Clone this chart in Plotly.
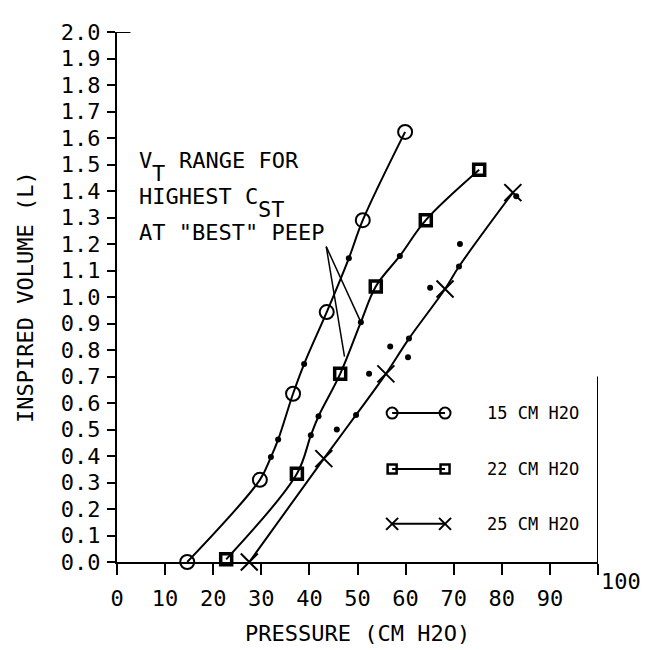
import plotly.graph_objects as go

# ---------------- data ----------------
# PEEP 15 cm H2O (circles)
c15_x = [14.6, 29.7, 36.6, 43.6, 51.1, 59.9]
c15_y = [0.0, 0.31, 0.635, 0.943, 1.29, 1.623]
c15_dot_x = [32.0, 33.5, 38.9, 48.2]
c15_dot_y = [0.396, 0.462, 0.747, 1.146]

# PEEP 22 cm H2O (squares)
c22_x = [22.7, 37.4, 46.4, 53.8, 64.2, 75.3]
c22_y = [0.01, 0.333, 0.71, 1.04, 1.29, 1.48]
c22_dot_x = [40.3, 41.9, 50.7, 58.8]
c22_dot_y = [0.478, 0.55, 0.905, 1.155]

# PEEP 25 cm H2O (crosses)
c25_x = [27.5, 43.0, 55.9, 68.2, 82.3]
c25_y = [0.0, 0.39, 0.71, 1.03, 1.394]
c25_dot_x = [49.7, 60.7, 71.1]
c25_dot_y = [0.555, 0.843, 1.115]

# loose dots not on a curve
stray_x = [45.7, 52.4, 56.8, 60.5, 65.1, 71.3, 83.0]
stray_y = [0.50, 0.71, 0.813, 0.773, 1.035, 1.20, 1.38]

x_ticks = [0, 10, 20, 30, 40, 50, 60, 70, 80, 90, 100]
x_tick_text = ["0", "10", "20", "30", "40", "50", "60", "70", "80", "90", ""]
y_ticks = [i / 10 for i in range(21)]

legend_labels = ["15 CM H2O", "22 CM H2O", "25 CM H2O"]

FONT = "DejaVu Sans Mono"
FS = 22
FS_LEG = 17
BLACK = "#000000"


def merged(xs, ys, dx, dy):
    pts = sorted(zip(list(xs) + list(dx), list(ys) + list(dy)))
    return [p[0] for p in pts], [p[1] for p in pts]


fig = go.Figure()

series = [
    (c15_x, c15_y, c15_dot_x, c15_dot_y, "circle-open", 14, 2),
    (c22_x, c22_y, c22_dot_x, c22_dot_y, "square-open", 11, 3.5),
    (c25_x, c25_y, c25_dot_x, c25_dot_y, "x-thin-open", 17, 2),
]
for xs, ys, dx, dy, sym, size, lw in series:
    lx, ly = merged(xs, ys, dx, dy)
    fig.add_trace(go.Scatter(x=lx, y=ly, mode="lines",
                             line=dict(color=BLACK, width=2, shape="spline", smoothing=1),
                             showlegend=False, hoverinfo="skip", cliponaxis=False))
    fig.add_trace(go.Scatter(x=xs, y=ys, mode="markers",
                             marker=dict(symbol=sym, size=size, color=BLACK,
                                         line=dict(color=BLACK, width=lw)),
                             showlegend=False, cliponaxis=False))
    fig.add_trace(go.Scatter(x=dx, y=dy, mode="markers",
                             marker=dict(symbol="circle", size=6, color=BLACK),
                             showlegend=False, cliponaxis=False))

fig.add_trace(go.Scatter(x=stray_x, y=stray_y, mode="markers",
                         marker=dict(symbol="circle", size=6, color=BLACK),
                         showlegend=False, cliponaxis=False))

# ---------------- hand-drawn style legend ----------------
leg_rows_y = [0.562, 0.351, 0.144]
leg_x0, leg_x1, leg_text_x = 57.2, 68.2, 76.5
leg_syms = [("circle-open", 11, 2), ("square-open", 9, 2.5), ("x-thin-open", 12, 2)]
for (sym, size, lw), yy, lab in zip(leg_syms, leg_rows_y, legend_labels):
    fig.add_trace(go.Scatter(x=[leg_x0, leg_x1], y=[yy, yy], mode="lines+markers",
                             line=dict(color=BLACK, width=2),
                             marker=dict(symbol=sym, size=size, color=BLACK,
                                         line=dict(color=BLACK, width=lw)),
                             showlegend=False, hoverinfo="skip", cliponaxis=False))
    fig.add_annotation(x=leg_text_x, y=yy, xref="x", yref="y", text=lab,
                       showarrow=False, xanchor="left", yanchor="middle",
                       font=dict(family=FONT, size=FS_LEG, color=BLACK))

# ---------------- annotation text ----------------
PITCH = 0.602 * FS
ann_x = 4.16
ann_lines = [
    (1.517, [(0, "V", 0), (1, "T", -13), (3, "RANGE FOR", 0)]),
    (1.380, [(0, "HIGHEST C", 0), (9, "ST", -13)]),
    (1.243, [(0, 'AT "BEST" PEEP', 0)]),
]
for yy, parts in ann_lines:
    for col, txt, dy in parts:
        fig.add_annotation(x=ann_x, y=yy, xref="x", yref="y", text=txt,
                           showarrow=False, xanchor="left", yanchor="middle",
                           xshift=col * PITCH, yshift=dy,
                           font=dict(family=FONT, size=FS, color=BLACK))

# pointer lines
ptr_start = (43.5, 1.19)
ptr_ends = [(50.7, 0.905), (47.3, 0.775)]
for ex, ey in ptr_ends:
    fig.add_shape(type="line", xref="x", yref="y", x0=ptr_start[0], y0=ptr_start[1],
                  x1=ex, y1=ey, line=dict(color=BLACK, width=1.5))

# top tick crossing the axis and right frame segment
fig.add_shape(type="line", xref="x", yref="y", x0=0, y0=2.0, x1=2.8, y1=2.0,
              line=dict(color=BLACK, width=2))
fig.add_shape(type="line", xref="x", yref="y", x0=100, y0=0, x1=100, y1=0.70,
              line=dict(color=BLACK, width=2))

# "100" label, raised
fig.add_annotation(x=100, y=0, xref="x", yref="y", text="100", showarrow=False,
                   xanchor="center", yanchor="middle", xshift=23, yshift=-19,
                   font=dict(family=FONT, size=FS, color=BLACK))

# axis titles
fig.add_annotation(x=0.5, y=0, xref="paper", yref="paper", text="PRESSURE (CM H2O)",
                   showarrow=False, xanchor="center", yanchor="middle", yshift=-71,
                   font=dict(family=FONT, size=FS, color=BLACK))
fig.add_annotation(x=0, y=0.5, xref="paper", yref="paper", text="INSPIRED VOLUME (L)",
                   showarrow=False, xanchor="center", yanchor="middle", xshift=-92,
                   textangle=-90, font=dict(family=FONT, size=FS, color=BLACK))

# the page body adds an 8px margin, so the figure is 8px smaller and shifted
fig.update_layout(
    width=645, height=642,
    margin=dict(l=109, r=55, t=13, b=88),
    paper_bgcolor="white", plot_bgcolor="white",
    font=dict(family=FONT, size=FS, color=BLACK),
    showlegend=False,
    xaxis=dict(range=[0, 100], tickvals=x_ticks, ticktext=x_tick_text,
               showgrid=False, zeroline=False, showline=True, linecolor=BLACK,
               linewidth=2, ticks="outside", ticklen=11, tickwidth=2, tickcolor=BLACK,
               ticklabelstandoff=5, fixedrange=True),
    yaxis=dict(range=[0, 2.0], tickvals=y_ticks, tickformat=".1f",
               showgrid=False, zeroline=False, showline=True, linecolor=BLACK,
               linewidth=2, ticks="outside", ticklen=8, tickwidth=2, tickcolor=BLACK,
               ticklabelstandoff=2, fixedrange=True),
)

fig.write_html("out.html")
